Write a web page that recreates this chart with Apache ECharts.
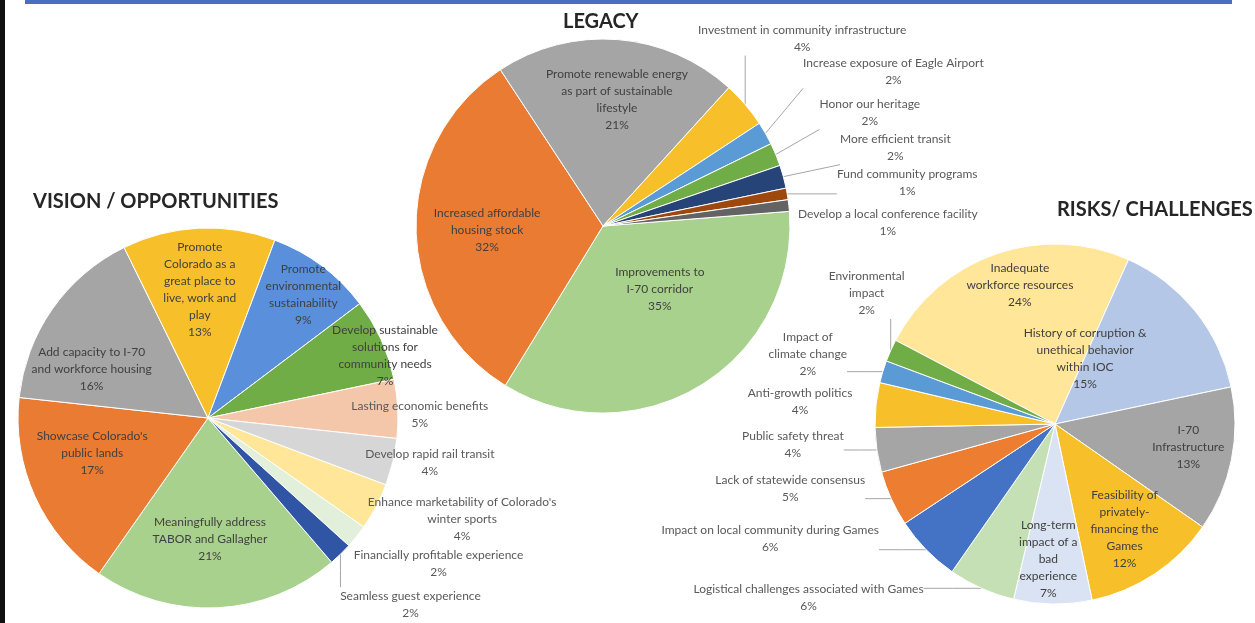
<!DOCTYPE html>
<html><head><meta charset="utf-8">
<script src="https://cdn.jsdelivr.net/npm/echarts@6/dist/echarts.min.js"></script>
<style>
html,body{margin:0;padding:0;background:#fff;overflow:hidden;}
#chart{position:absolute;left:0;top:0;width:1255px;height:623px;}
#lbar{position:absolute;left:0;top:0;width:5px;height:623px;background:#111;z-index:2}
#tbar{position:absolute;left:25px;top:0;width:1207px;height:4px;background:#4a6fc0;z-index:2}
</style></head><body>
<div id="chart"></div><div id="lbar"></div><div id="tbar"></div>
<script>
// ---------------- DATA ----------------
const visionNames = [
  "Meaningfully address\nTABOR and Gallagher",
  "Showcase Colorado's\npublic lands",
  "Add capacity to I-70\nand workforce housing",
  "Promote\nColorado as a\ngreat place to\nlive, work and\nplay",
  "Promote\nenvironmental\nsustainability",
  "Develop sustainable\nsolutions for\ncommunity needs",
  "Lasting economic benefits",
  "Develop rapid rail transit",
  "Enhance marketability of Colorado's\nwinter sports",
  "Financially profitable experience",
  "Seamless guest experience"
];
const visionValues = [21, 17, 16, 13, 9, 7, 5, 4, 4, 2, 2];

const legacyNames = [
  "Improvements to\nI-70 corridor",
  "Increased affordable\nhousing stock",
  "Promote renewable energy\nas part of sustainable\nlifestyle",
  "Investment in community infrastructure",
  "Increase exposure of Eagle Airport",
  "Honor our heritage",
  "More efficient transit",
  "Fund community programs",
  "Develop a local conference facility"
];
const legacyValues = [35, 32, 21, 4, 2, 2, 2, 1, 1];

const riskNames = [
  "Inadequate\nworkforce resources",
  "History of corruption &\nunethical behavior\nwithin IOC",
  "I-70\nInfrastructure",
  "Feasibility of\nprivately-\nfinancing the\nGames",
  "Long-term\nimpact of a\nbad\nexperience",
  "Logistical challenges associated with Games",
  "Impact on local community during Games",
  "Lack of statewide consensus",
  "Public safety threat",
  "Anti-growth politics",
  "Impact of\nclimate change",
  "Environmental\nimpact"
];
const riskValues = [24, 15, 13, 12, 7, 6, 6, 5, 4, 4, 2, 2];

const titles = ["VISION / OPPORTUNITIES", "LEGACY", "RISKS/ CHALLENGES"];

// ---------------- STYLE / LAYOUT ----------------
const visionColors = ['#A9D18E','#EA7B33','#A5A5A5','#F7C02A','#5A8FDB','#70AD47','#F4C7AB','#D6D6D6','#FFE699','#E2EFDA','#2F55A4'];
const legacyColors = ['#A9D18E','#EA7B33','#A5A5A5','#F7C02A','#5B9BD5','#70AD47','#264478','#9E480E','#636363'];
const riskColors   = ['#FFE699','#B4C7E7','#A5A5A5','#F7C02A','#DAE3F3','#C5E0B4','#4472C4','#ED7D31','#A5A5A5','#F7C02A','#5B9BD5','#70AD47'];

// pie geometry: center, radius, first-slice angle (deg clockwise from 12 o'clock)
const visionGeo = {cx:208, cy:418, r:190, start:139.4};
const legacyGeo = {cx:603, cy:226, r:187, start:85.5};
const riskGeo   = {cx:1055, cy:424, r:180, start:297.7};

// label placement: [radial factor, dx, dy, leader line, inside]
const visionPlace = [
  [0.64,-4,0,0,1],[0.6,-12,-12,0,1],[0.6,-23,17,0,1],[0.67,-2,-1,0,1],[0.82,2,1,0,1],[1.0,4,16,0,1],
  [1,22,6,0,0],[1,37,1,0,0],[1,86,13,0,0],[1,82,27,0,0],[1,70,50,1,0]
];
const legacyPlace = [
  [0.5,8,-17,0,1],[0.62,0,2,0,1],[0.68,4,0,0,1],
  [1,57,-66,1,0],[1,128,-62,1,0],[1,94,-42,1,0],[1,112,-29,1,0],[1,120,-11,1,0],[1,99,17,0,0]
];
const riskPlace = [
  [0.8,12,-3,0,1],[0.4,-26,-20,0,1],[0.75,1,-4,0,1],[0.7,0,0,0,1],[0.75,-5,0,0,1],
  [1,-173,9,1,0],[1,-156,-11,1,0],[1,-101,-10,1,0],[1,-84,-5,1,0],[1,-76,-3,0,0],[1,-75,-18,1,0],[1,-24,-57,1,0]
];

const FONT = 'Lato';

function midAngles(values, start) {
  const t = values.reduce((a,b)=>a+b,0);
  let c = 0;
  return values.map(v => { const m = start + (c + v/2)/t*360; c += v; return m; });
}

function makeSeries(names, values, colors, geo, place) {
  const mids = midAngles(values, geo.start);
  return {
    type: 'pie',
    center: [geo.cx, geo.cy],
    radius: geo.r,
    startAngle: 90 - geo.start,
    clockwise: true,
    avoidLabelOverlap: false,
    animation: false,
    silent: true,
    itemStyle: {borderColor: '#ffffff', borderWidth: 1},
    label: {
      show: true,
      fontFamily: FONT, fontSize: 12, lineHeight: 17, align: 'center',
      formatter: p => p.name + '\n' + Math.round(p.percent) + '%'
    },
    labelLine: {length: 4, length2: 4, lineStyle: {color: '#a6a6a6', width: 1}},
    data: names.map((n, i) => ({
      name: n, value: values[i],
      itemStyle: {color: colors[i]},
      label: {position: place[i][4] ? 'inside' : 'outside', color: place[i][4] ? '#404040' : '#595959'},
      labelLine: {show: !!place[i][3]}
    })),
    labelLayout: function (p) {
      const i = p.dataIndex, pl = place[i];
      const a = mids[i] * Math.PI / 180;
      const ex = geo.cx + geo.r * Math.sin(a), ey = geo.cy - geo.r * Math.cos(a);
      const x = geo.cx + pl[0] * geo.r * Math.sin(a) + pl[1];
      const y = geo.cy - pl[0] * geo.r * Math.cos(a) + pl[2];
      const out = {x: x, y: y, align: 'center', verticalAlign: 'middle'};
      if (pl[3]) {
        const w = p.labelRect.width, h = p.labelRect.height;
        const rx0 = x - w/2, rx1 = x + w/2, ry0 = y - h/2, ry1 = y + h/2;
        const qx = Math.min(Math.max(ex, rx0), rx1);
        const qy = Math.min(Math.max(ey, ry0), ry1);
        out.labelLinePoints = [[ex, ey], [(ex+qx)/2, (ey+qy)/2], [qx, qy]];
      }
      return out;
    }
  };
}

const chart = echarts.init(document.getElementById('chart'), null, {renderer: 'canvas'});
const titleStyle = {fontFamily: FONT, fontWeight: 'bold', fontSize: 20, color: '#262626'};
chart.setOption({
  backgroundColor: '#ffffff',
  animation: false,
  title: [
    {text: titles[0], left: 28, top: 187, padding: 5, textStyle: titleStyle},
    {text: titles[1], left: 558, top: 7, padding: 5, textStyle: titleStyle},
    {text: titles[2], left: 1052, top: 195, padding: 5, textStyle: Object.assign({}, titleStyle, {fontSize: 20})}
  ],
  series: [
    makeSeries(visionNames, visionValues, visionColors, visionGeo, visionPlace),
    makeSeries(legacyNames, legacyValues, legacyColors, legacyGeo, legacyPlace),
    makeSeries(riskNames, riskValues, riskColors, riskGeo, riskPlace)
  ]
});
</script>
</body></html>
